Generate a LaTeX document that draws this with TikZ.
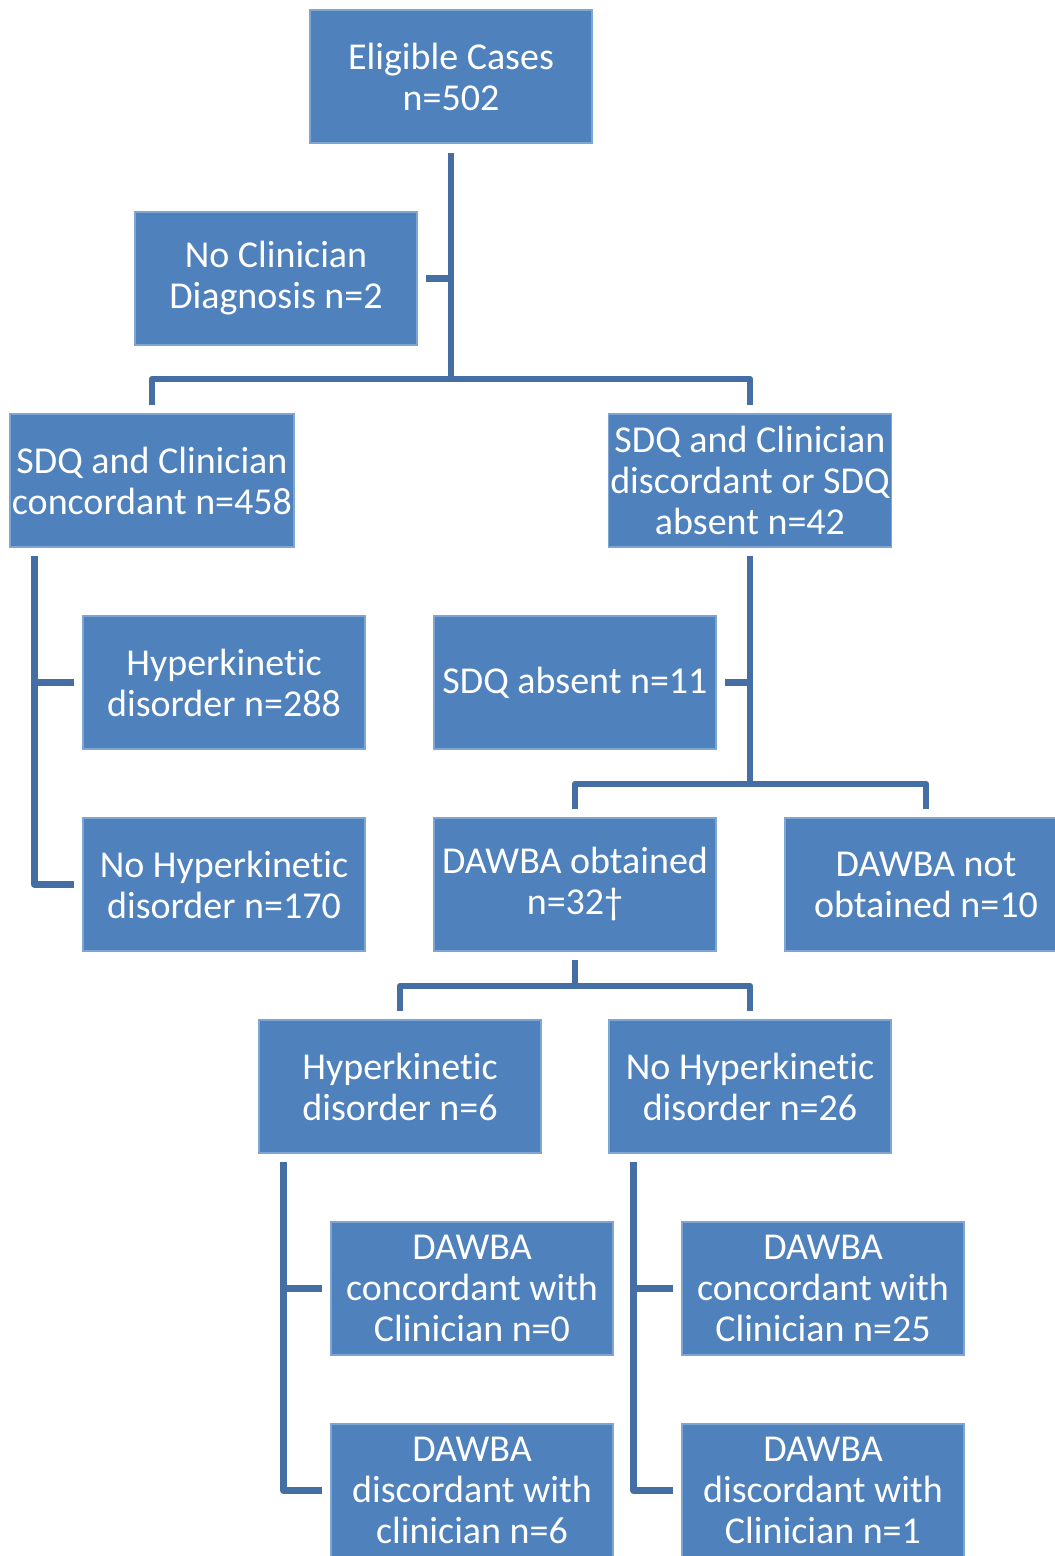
\documentclass[tikz,border=0pt]{standalone}
\usepackage{fontspec}
\setmainfont[Ligatures=NoCommon]{Carlito}
\definecolor{boxfill}{RGB}{79,129,189}
\definecolor{boxedge}{RGB}{126,165,212}
\definecolor{linkcol}{RGB}{68,110,164}

\begin{document}
\begin{tikzpicture}[x=0.5pt,y=-0.5pt,node distance=101pt,
    box/.style={rectangle,fill=boxfill,draw=boxedge,line width=0.6pt,text=white,
        minimum width=141pt,minimum height=66.5pt,inner sep=1pt,align=center,
        font=\fontsize{19pt}{20.5pt}\selectfont},
    link/.style={draw=linkcol,line width=3.25pt,line join=round}]
            \useasboundingbox (0,0) rectangle (1054,1556);

            \node[box] (elig) at (451,76.5) {Eligible Cases\\n=502};
            \node[box] (noclin) [below of=elig, xshift=-87.5pt] {No Clinician\\Diagnosis n=2};
            \node[box] (conc) [below of=noclin, xshift=-62pt] {SDQ and Clinician\\concordant n=458};
            \node[box] (disc) [right of=conc, node distance=299pt] {SDQ and Clinician\\discordant or SDQ\\absent n=42};
            \node[box] (hk1) [below of=conc, xshift=36pt] {Hyperkinetic\\disorder n=288};
            \node[box] (nohk1) [below of=hk1] {No Hyperkinetic\\disorder n=170};
            \node[box] (absent) [below of=disc, xshift=-87.5pt] {SDQ absent n=11};
            \node[box] (obt) [below of=absent] {DAWBA obtained\\n=32†};
            \node[box] (notobt) [right of=obt, node distance=175.5pt] {DAWBA not\\obtained n=10};
            \node[box] (hk2) [below of=obt, xshift=-87.5pt] {Hyperkinetic\\disorder n=6};
            \node[box] (nohk2) [right of=hk2, node distance=175pt] {No Hyperkinetic\\disorder n=26};
            \node[box] (c1) [below of=hk2, xshift=36pt] {DAWBA\\concordant with\\Clinician n=0};
            \node[box] (d1) [below of=c1] {DAWBA\\discordant with\\clinician n=6};
            \node[box] (c2) [below of=nohk2, xshift=36.5pt] {DAWBA\\concordant with\\Clinician n=25};
            \node[box] (d2) [below of=c2] {DAWBA\\discordant with\\Clinician n=1};

            \coordinate (b1) at (451,379);
            \coordinate (b2) at (750,784);
            \coordinate (b3) at (575,986);
            \coordinate (v1) at ([xshift=12.5pt]conc.south west);
            \coordinate (v2) at ([xshift=12.5pt]hk2.south west);
            \coordinate (v3) at ([xshift=12.5pt]nohk2.south west);

            \draw[link, shorten <=4.5pt] (elig.south) -- (b1);
            \draw[link, shorten >=4pt] (elig.south |- noclin.east) -- (noclin.east);
            \draw[link, shorten <=4pt, shorten >=4pt] (conc.north) |- (b1) -| (disc.north);

            \draw[link, shorten <=4pt, shorten >=4pt] (v1) |- (nohk1.west);
            \draw[link, shorten >=4pt] (v1 |- hk1.west) -- (hk1.west);

            \draw[link, shorten <=4pt] (disc.south) -- (b2);
            \draw[link, shorten >=4pt] (disc.south |- absent.east) -- (absent.east);
            \draw[link, shorten <=4pt, shorten >=4pt] (obt.north) |- (b2) -| (notobt.north);

            \draw[link, shorten <=4pt] (obt.south) -- (b3);
            \draw[link, shorten <=4pt, shorten >=4pt] (hk2.north) |- (b3) -| (nohk2.north);

            \draw[link, shorten <=4pt, shorten >=4pt] (v2) |- (d1.west);
            \draw[link, shorten >=4pt] (v2 |- c1.west) -- (c1.west);
            \draw[link, shorten <=4pt, shorten >=4pt] (v3) |- (d2.west);
            \draw[link, shorten >=4pt] (v3 |- c2.west) -- (c2.west);
\end{tikzpicture}
\end{document}
